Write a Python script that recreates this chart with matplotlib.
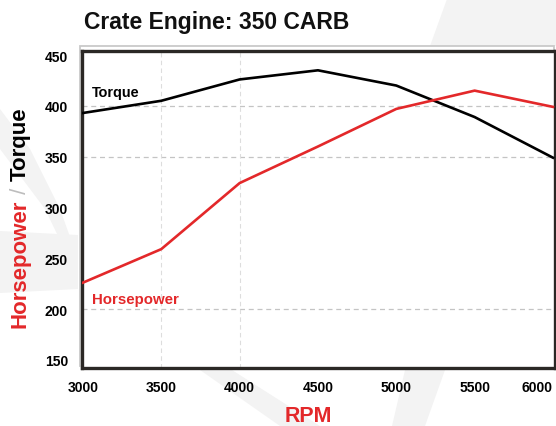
import matplotlib
matplotlib.use("Agg")
import matplotlib.pyplot as plt
from matplotlib.patches import Polygon, Rectangle

rpm = [3000, 3500, 4000, 4500, 5000, 5500, 6000]
torque = [393, 405, 426, 435, 420, 389, 349]
horsepower = [226, 259, 324, 360, 397, 415, 399]
y_ticks = [150, 200, 250, 300, 350, 400, 450]
grid_y = [200, 350, 400]
grid_x = [3500, 4000]

RED = "#e3282a"
DARK = "#2b2825"
SANS = "Liberation Sans"

W, H = 556, 427
fig = plt.figure(figsize=(W / 100, H / 100), dpi=100)
fig.patch.set_facecolor("white")


def fx(px):
    return px / W


def fy(py):
    return 1 - py / H


WM = "#f3f3f3"
# faint watermark shapes
for pts in [
    [(447, 0), (556, 0), (556, 47), (430, 47)],
    [(0, 110), (30, 150), (60, 210), (78, 260), (70, 262), (45, 210), (0, 150)],
    [(0, 232), (78, 236), (78, 290), (0, 294)],
    [(200, 371), (232, 371), (320, 427), (280, 427)],
    [(405, 371), (445, 371), (425, 427), (392, 427)],
]:
    fig.patches.append(Polygon([(fx(x), fy(y)) for x, y in pts], closed=True,
                               transform=fig.transFigure, facecolor=WM,
                               edgecolor="none", zorder=-2))

# light shadow frame
fig.patches.append(Rectangle((fx(80), fy(367)), fx(554) - fx(80), fy(47) - fy(367),
                             transform=fig.transFigure, facecolor="none",
                             edgecolor="#c9c9c9", lw=1.3, zorder=-1))

ax = fig.add_axes([fx(82), fy(369), fx(555) - fx(82), fy(52) - fy(369)])
ax.set_zorder(1)
ax.set_facecolor("white")

ax.plot(rpm, torque, color="black", lw=1.9, zorder=3)
ax.plot(rpm, horsepower, color=RED, lw=1.9, zorder=3)

for g in grid_y:
    ax.axhline(g, color="#c4c4c4", lw=0.9, ls=(0, (4, 3)), zorder=1)
for g in grid_x:
    ax.axvline(g, color="#dddddd", lw=0.8, ls=(0, (4, 3)), zorder=1)

ax.set_xlim(2994, 6013)
ax.set_ylim(142, 454)
ax.set_xticks(rpm)
ax.set_xticklabels([str(r) for r in rpm])
ax.set_yticks(y_ticks)
ax.set_yticklabels([str(v) for v in y_ticks])
ax.tick_params(length=0, labelsize=10, pad=0)
ax.tick_params(axis="y", pad=10)
ax.tick_params(axis="x", pad=9)
for lbl in ax.get_xticklabels() + ax.get_yticklabels():
    lbl.set_fontfamily(SANS)
    lbl.set_fontweight("bold")
ax.get_xticklabels()[-1].set_ha("right")

for s in ax.spines.values():
    s.set_color(DARK)
    s.set_linewidth(2.4)

ax.text(3055, 414, "Torque", family=SANS, weight="bold", fontsize=10.4,
        color="black", va="center", ha="left")
ax.text(3055, 210, "Horsepower", family=SANS, weight="bold", fontsize=10.8,
        color=RED, va="center", ha="left")

fig.text(fx(84), fy(23), "Crate Engine: 350 CARB", family=SANS, weight="bold",
         fontsize=16.5, color="#111111", va="center", ha="left")
fig.text(fx(308), fy(417), "RPM", family=SANS, weight="bold", fontsize=15.5,
         color=RED, va="center", ha="center")

# multi-colour y label
fig.canvas.draw()
r = fig.canvas.get_renderer()
x0 = fx(20)
t1 = fig.text(x0, fy(328), "Horsepower", family=SANS, weight="bold", fontsize=16,
              color=RED, rotation=90, va="bottom", ha="center")
bb = t1.get_window_extent(r).transformed(fig.transFigure.inverted())
t2 = fig.text(x0, bb.y1, " / ", family=SANS, weight="normal", fontsize=16,
              color="#bdbdbd", rotation=90, va="bottom", ha="center")
bb = t2.get_window_extent(r).transformed(fig.transFigure.inverted())
fig.text(x0, bb.y1, "Torque", family=SANS, weight="bold", fontsize=16,
         color="black", rotation=90, va="bottom", ha="center")

fig.savefig("out.png", dpi=100, facecolor="white")
